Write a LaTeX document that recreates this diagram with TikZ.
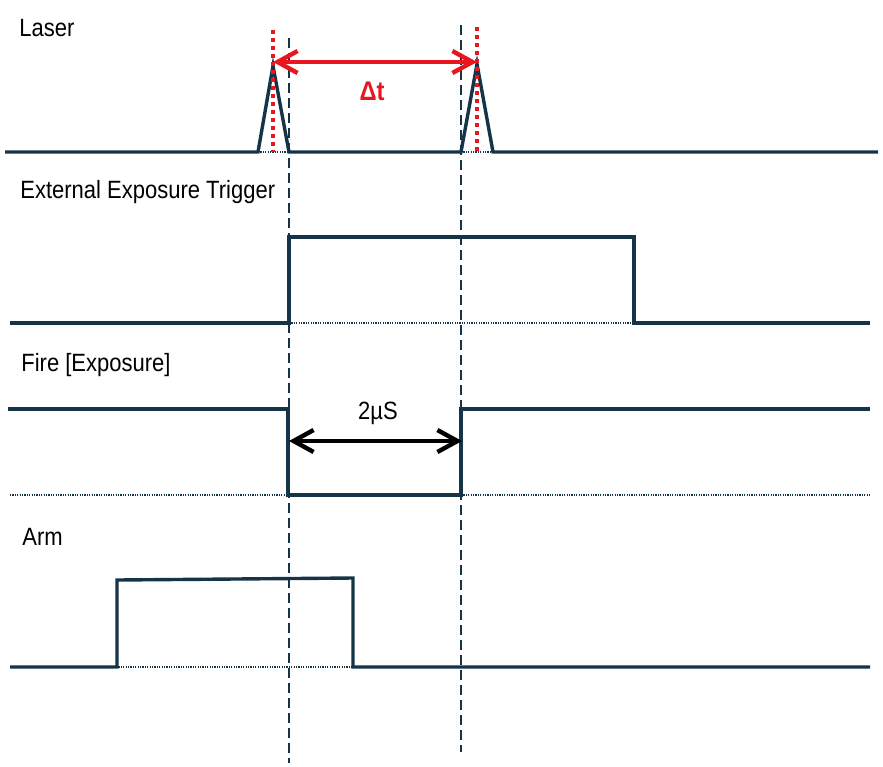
\documentclass[tikz,border=0pt]{standalone}
\usepackage{fontspec}
\setmainfont{Liberation Sans}
\newfontfamily\narrowfont[FakeStretch=0.88]{Liberation Sans}
\usetikzlibrary{arrows.meta}
\definecolor{sigblue}{RGB}{22,52,72}
\definecolor{dtred}{RGB}{232,22,30}
\tikzset{
  sig/.style     = {draw=sigblue, line width=1.7pt, line join=miter},
  base/.style    = {draw=sigblue, line width=0.6pt, dash pattern=on 0.6pt off 0.6pt},
  guide/.style   = {draw=sigblue, line width=0.8pt, dash pattern=on 5pt off 2.5pt},
  reddot/.style  = {draw=dtred, line width=2.4pt, dash pattern=on 2pt off 2pt},
  span/.style    = {{Straight Barb[length=10pt,width=11pt]}-{Straight Barb[length=10pt,width=11pt]}, line width=2.2pt},
  lbl/.style     = {font=\narrowfont\fontsize{12.5}{14}\selectfont, anchor=west, inner sep=0pt}
}

\begin{document}
\begin{tikzpicture}[x=0.5pt, y=-0.5pt]
\useasboundingbox (0,0) rectangle (883,766);
% ---- labels ----
\node[lbl] (laser) at (19,28)  {Laser};
\node[lbl] (trig)  at (20,192) {External Exposure Trigger};
\node[lbl] (fire)  at (21,365) {Fire [Exposure]};
\node[lbl] (arm)   at (22,537) {Arm};

% ---- guides at the two edges ----
\draw[guide] (289,38) -- (289,763);
\draw[guide] (461,25) -- (461,752);

% ---- thin base levels ----
\foreach \xa/\xb/\y in {258/289/152, 461/493/152, 289/634/323,
                        10/288/495, 461/870/495, 116/353/667}
  \draw[base] (\xa,\y) -- (\xb,\y);

% ---- signals ----
\draw[sig] (5,152) -- (258,152) -- (273,66) -- (289,152) -- (461,152)
           -- (477,64) -- (493,152) -- (878,152);
\draw[sig] (10,323) -- (289,323) -- (289,237) -- (634,237) -- (634,323) -- (870,323);
\draw[sig] (8,409) -- (288,409) -- (288,495) -- (461,495) -- (461,409) -- (870,409);
\draw[sig] (10,667) -- (117,667) -- (117,580) -- (353,578) -- (353,667) -- (870,667);

% ---- pulse spacing ----
\draw[reddot] (273,30) -- (273,152);
\draw[reddot] (477,27) -- (477,152);
\coordinate (p1) at (273,62);
\coordinate (p2) at (477,62);
\draw[span, dtred] (p1) -- (p2);
\node[font=\narrowfont\fontsize{13.5}{15}\selectfont\bfseries, text=dtred] (dt) at (372,91) {Δt};

% ---- exposure width ----
\coordinate (f1) at (289,441);
\coordinate (f2) at (462,441);
\draw[span, black] (f1) -- (f2);
\node[font=\narrowfont\fontsize{12.5}{14}\selectfont] (w) at (378,413) {2µS};
\end{tikzpicture}
\end{document}
